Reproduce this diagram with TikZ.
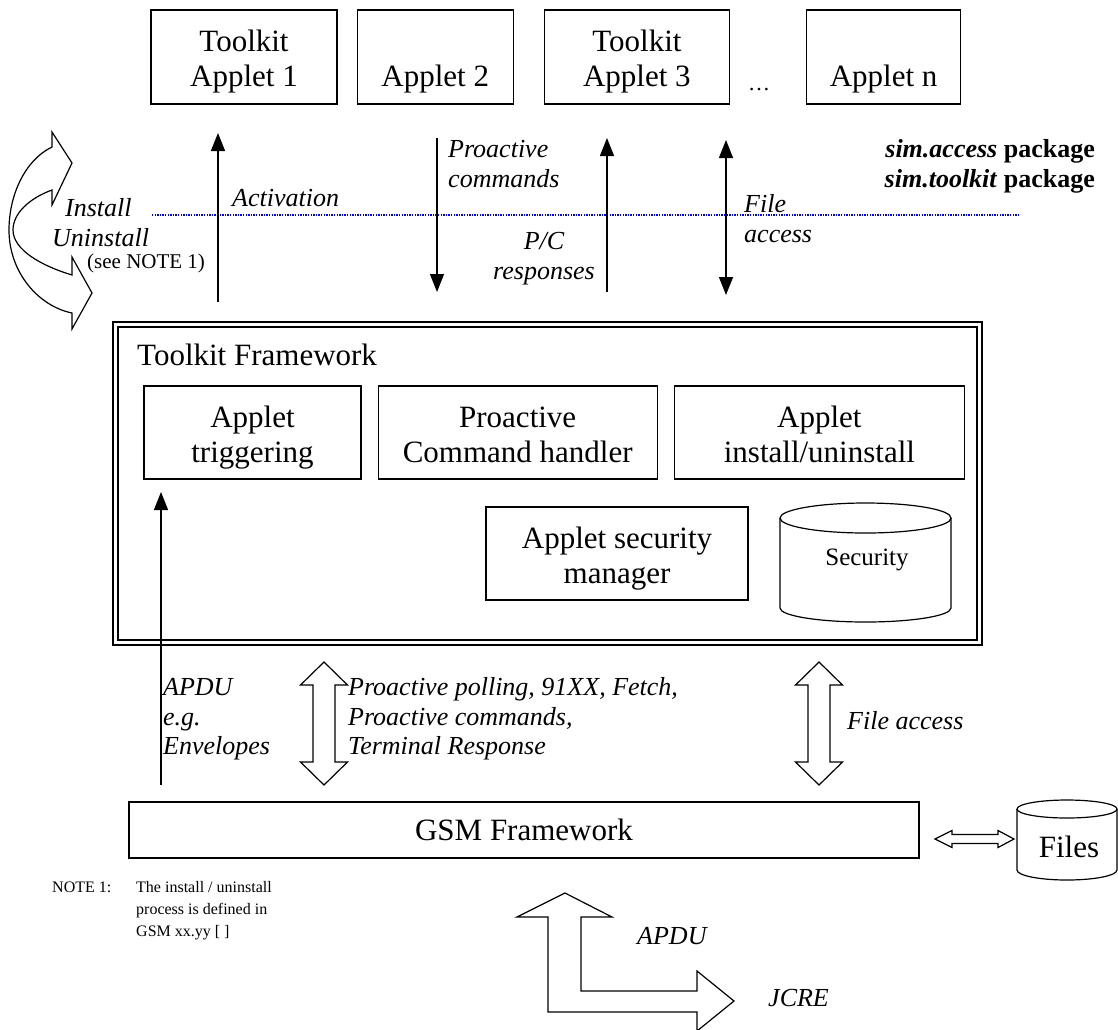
\documentclass[tikz,border=0pt]{standalone}
\usepackage{fontspec}
\setmainfont{Liberation Serif}
\usetikzlibrary{arrows.meta,calc,positioning}

% box text: two lines, first one may be empty
\newcommand{\bx}[2]{\rule{0pt}{31pt}#1\\#2\rule[-7pt]{0pt}{7pt}}
% hollow two-headed block arrows between two coordinates
\newcommand{\updown}[2]{\draw[blk] (#1) -- ++(23.5,23) -- ++(-12.5,0) -- ($(#2)+(11,-23)$) -- ++(12.5,0) -- (#2) -- ++(-23.5,-23) -- ++(12.5,0) -- ($(#1)+(-11,23)$) -- ++(-12.5,0) -- cycle;}
\newcommand{\leftright}[2]{\draw[blk] (#1) -- ++(17,-8.5) -- ++(0,4) -- ($(#2)+(-16,-4.5)$) -- ++(0,-4) -- (#2) -- ++(-16,8.5) -- ++(0,-4) -- ($(#1)+(17,4.5)$) -- ++(0,4) -- cycle;}

\begin{document}
\begin{tikzpicture}
[x=1pt,y=-1pt,
box/.style={rectangle,draw=black,line width=1.2pt,inner sep=0pt,align=center,font=\fontsize{31}{35}\selectfont},
lab/.style={inner sep=0pt,anchor=north west,align=left,font=\itshape\fontsize{26}{29.5}\selectfont},
small/.style={inner sep=0pt,anchor=north west,align=left,font=\fontsize{16}{22}\selectfont},
edge/.style={-{Triangle[width=14pt,length=18pt]},line width=1.4pt},
twoway/.style={{Triangle[width=14pt,length=18pt]}-{Triangle[width=14pt,length=18pt]},line width=1.4pt},
blk/.style={draw=black,line width=1.2pt,fill=white,line join=miter},
drum/.style={draw=black,line width=1.2pt}]
\useasboundingbox[fill=white] (0,0) rectangle (1118,1029);

% applets
\node[box,minimum width=186pt,minimum height=94pt] (app1) at (244,57) {\bx{Toolkit}{Applet 1}};
\node[box,minimum width=156pt,minimum height=94pt,right=19pt of app1] (app2) {\bx{}{Applet 2}};
\node[box,minimum width=185pt,minimum height=94pt,right=30pt of app2] (app3) {\bx{Toolkit}{Applet 3}};
\node[box,minimum width=154pt,minimum height=94pt,right=76pt of app3] (appn) {\bx{}{Applet n}};
\node[anchor=base,inner sep=0pt,font=\fontsize{22}{26}\selectfont] (dots) at (759,90) {\dots};

% package border
\draw[blue,line width=1.3pt,dash pattern=on 1.3pt off 1.3pt] (152,215) -- (1018,215);
\node[lab,anchor=north east,align=right,font=\bfseries\fontsize{26}{29.5}\selectfont] (pkg) at (1095,137) {\strut\textit{sim.access} package\\\textit{sim.toolkit} package};

% install / uninstall
\draw[blk] (52,147) .. controls (25,160) and (9,195) .. (9,230) .. controls (9,272) and (38,306) .. (72,313) -- (72,329) -- (92,293) -- (72,257) -- (72,275) .. controls (42,266) and (13,250) .. (13,230) .. controls (13,213) and (30,198) .. (52,190) -- (52,205) -- (72,163) -- (52,132) -- cycle;
\node[lab] (instl) at (65,196) {\strut Install};
\node[lab] (uninstl) at (52,226) {\strut Uninstall};
\node[small,font=\fontsize{21}{25}\selectfont] (seenote) at (87,250.5) {\strut(see NOTE 1)};

% applet <-> framework
\coordinate (actlo) at (218,302);
\coordinate (acthi) at (218,133);
\coordinate (pchi) at (437,138);
\coordinate (pclo) at (437,292);
\coordinate (pcrlo) at (607,292);
\coordinate (pcrhi) at (607,138);
\coordinate (fahi) at (726,140);
\coordinate (falo) at (726,295);
\draw[edge] (actlo) -- (acthi);
\draw[edge] (pchi) -- (pclo);
\draw[edge] (pcrlo) -- (pcrhi);
\draw[twoway] (fahi) -- (falo);
\node[lab] (actl) at (232,186) {\strut Activation};
\node[lab] (pcl) at (448,137) {\strut Proactive\\commands};
\node[lab,anchor=north,align=center] (pcrl) at (544,229) {\strut P/C\\responses};
\node[lab] (fal) at (744,192) {\strut File\\access};

% toolkit framework
\node[draw=black,double,double distance=3.6pt,line width=1.3pt,minimum width=864pt,minimum height=318pt,inner sep=0pt] (tkf) at (547.5,483.5) {};
\node[anchor=base west,inner sep=0pt,font=\fontsize{31}{35}\selectfont] (tkfl) at (137,365) {Toolkit Framework};
\node[box,minimum width=217pt,minimum height=93pt] (trig) at (252.5,432.5) {\bx{Applet}{triggering}};
\node[box,minimum width=279pt,minimum height=93pt,right=16pt of trig] (pch) {\bx{Proactive}{Command handler}};
\node[box,minimum width=290pt,minimum height=93pt,right=16pt of pch] (inst) {\bx{Applet}{install/uninstall}};
\node[box,minimum width=262pt,minimum height=93pt] (asm) at (617,553.5) {\bx{Applet security}{manager}};
\draw[drum] (780,518) -- (780,608) arc[start angle=180,end angle=360,x radius=85.5pt,y radius=14pt] -- (951,518);
\draw[drum] (865.5,518) ellipse [x radius=85.5pt,y radius=15pt];
\node[anchor=base,inner sep=0pt,font=\fontsize{25}{30}\selectfont] (sec) at (867,565) {Security};

% framework <-> gsm
\coordinate (apdulo) at (161,785);
\coordinate (apduhi) at (161,492);
\draw[edge] (apdulo) -- (apduhi);
\coordinate (pollhi) at (324,662);
\coordinate (polllo) at (324,785);
\updown{pollhi}{polllo}
\coordinate (fa2hi) at (819,662);
\coordinate (fa2lo) at (819,785);
\updown{fa2hi}{fa2lo}
\node[lab] (apdul) at (163,675) {\strut APDU\\e.g.\\Envelopes};
\node[lab] (polll) at (348,675) {\strut Proactive polling, 91XX, Fetch,\\Proactive commands,\\Terminal Response};
\node[lab] (fa2l) at (847,709) {\strut File access};

% gsm framework and files
\node[box,minimum width=790pt,minimum height=56pt] (gsm) at (524,830) {GSM Framework};
\draw[drum] (1017,809) -- (1017,870) arc[start angle=180,end angle=360,x radius=50pt,y radius=10pt] -- (1117,809);
\draw[drum] (1067,809) ellipse [x radius=50pt,y radius=9pt];
\node[anchor=base,inner sep=0pt,font=\fontsize{31}{35}\selectfont] (files) at (1069,857) {Files};
\coordinate (filel) at (935,839);
\coordinate (filer) at (1014,839);
\leftright{filel}{filer}

% apdu / jcre
\draw[blk] (565,893) coordinate (apdutip) -- (612,917) -- (581,917) -- (581,991) -- (697,991) -- (697,971) -- (734,1001) coordinate (jcretip) -- (697,1031) -- (697,1012) -- (548,1012) -- (548,917) -- (517,917) -- cycle;
\node[lab] (apdu2l) at (637,924) {\strut APDU};
\node[lab] (jcrel) at (768,986) {\strut JCRE};

% note
\node[small,anchor=base west] (note) at (52,892) {NOTE 1:};
\node[small] (notetxt) at (136,876.6) {\strut The install / uninstall\\process is defined in\\GSM xx.yy [ ]};
\end{tikzpicture}
\end{document}
